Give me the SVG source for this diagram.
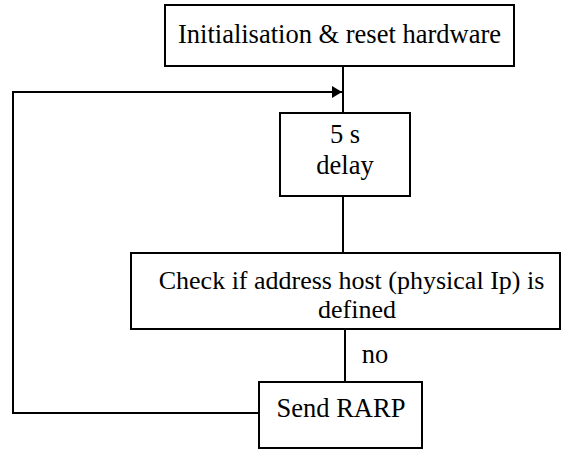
<svg xmlns="http://www.w3.org/2000/svg" width="562" height="450" viewBox="0 0 562 450">
<style>
.box{fill:#fff;stroke:#000;stroke-width:2}
.t{font-family:"Liberation Serif","Times New Roman",serif;font-size:26.5px;fill:#000;text-anchor:middle}
.ln{fill:none;stroke:#000;stroke-width:2}
</style>
<defs>
<marker id="ah" markerUnits="userSpaceOnUse" markerWidth="12" markerHeight="14" refX="10" refY="7" orient="auto">
<path d="M0,1 L10,7 L0,13 Z" fill="#000"/>
</marker>
</defs>
<rect width="562" height="450" fill="#fff"/>
<g id="connectors">
<line class="ln" x1="343" y1="66" x2="343" y2="113"/>
<line class="ln" x1="343" y1="196" x2="343" y2="253"/>
<line class="ln" x1="345" y1="329" x2="345" y2="382"/>
<polyline class="ln" points="259,413 13,413 13,92 342,92" marker-end="url(#ah)"/>
<text class="t" x="375" y="363">no</text>
</g>
<g id="init">
<rect class="box" x="165" y="5" width="349" height="61"/>
<text class="t" x="339.5" y="43">Initialisation &amp; reset hardware</text>
</g>
<g id="delay">
<rect class="box" x="280" y="113" width="130" height="83"/>
<text class="t" x="345" y="143">5 s</text>
<text class="t" x="345" y="174">delay</text>
</g>
<g id="check">
<rect class="box" x="131" y="253" width="429" height="76"/>
<text class="t" x="351.5" y="289" style="font-size:26px">Check if address host (physical Ip) is</text>
<text class="t" x="357" y="318" style="font-size:26px">defined</text>
</g>
<g id="rarp">
<rect class="box" x="259" y="382" width="163" height="66"/>
<text class="t" x="341" y="417">Send RARP</text>
</g>
</svg>
